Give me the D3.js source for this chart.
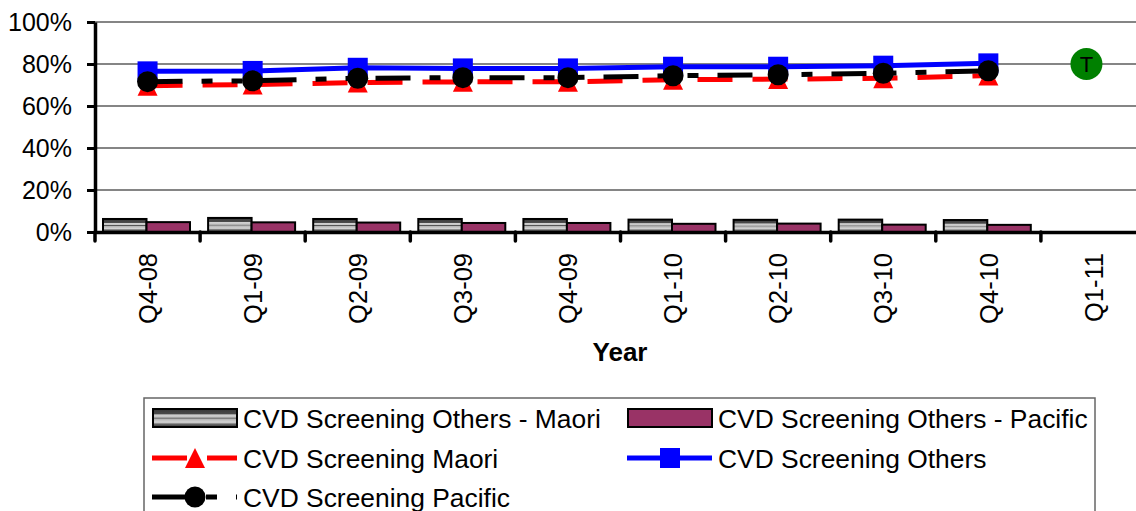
<!DOCTYPE html>
<html>
<head>
<meta charset="utf-8">
<script src="https://cdn.jsdelivr.net/npm/d3@7"></script>
<style>
  body { margin: 0; background: #fff; }
  svg { display: block; font-family: "Liberation Sans", Arial, sans-serif; }
</style>
</head>
<body>
<svg id="chart" width="1136" height="511"></svg>
<script>
// quarters on the x axis
var categories = ["Q4-08", "Q1-09", "Q2-09", "Q3-09", "Q4-09", "Q1-10", "Q2-10", "Q3-10", "Q4-10", "Q1-11"];
var yTicks = [0, 0.2, 0.4, 0.6, 0.8, 1];

// bar series
var othersMaori   = [0.062, 0.067, 0.062, 0.062, 0.062, 0.059, 0.058, 0.059, 0.057];
var othersPacific = [0.047, 0.046, 0.045, 0.043, 0.043, 0.039, 0.040, 0.035, 0.034];

// line series
var maori   = [0.697, 0.702, 0.712, 0.715, 0.715, 0.725, 0.728, 0.732, 0.745];
var others  = [0.765, 0.767, 0.782, 0.779, 0.779, 0.787, 0.787, 0.792, 0.803];
var pacific = [0.716, 0.720, 0.732, 0.735, 0.735, 0.744, 0.749, 0.756, 0.768];

// target point
var targetCat = ["Q1-11"];
var targetVal = [0.80];
var targetLabel = ["T"];

var seriesNames = ["CVD Screening Others - Maori", "CVD Screening Others - Pacific",
  "CVD Screening Maori", "CVD Screening Others", "CVD Screening Pacific"];

var svg = d3.select("#chart");

//----------------------SCALES-------------------------------------------
var x = d3.scaleBand().domain(categories).range([95, 1146]);
var y = d3.scaleLinear().domain([0, 1]).range([232, 22]);
var xSub = d3.scaleBand().domain(["m", "p"]).range([8, 95]);

// gray striped fill for the Maori bars
var defs = svg.append("defs");
var grad = defs.append("linearGradient").attr("id", "grayBar")
  .attr("x1", 0).attr("y1", 0).attr("x2", 0).attr("y2", 1);
[[0, "#3a3a3a"], [0.28, "#4a4a4a"], [0.32, "#d0d0d0"], [0.46, "#c4c4c4"], [0.5, "#555"],
 [0.56, "#b4b4b4"], [0.74, "#d4d4d4"], [0.84, "#6a6a6a"], [1, "#333"]]
  .forEach(function(s) { grad.append("stop").attr("offset", s[0]).attr("stop-color", s[1]); });

//----------------------GRID---------------------------------------------
svg.append("g").selectAll("line")
  .data(yTicks.filter(function(d) { return d > 0; }))
  .enter().append("line")
    .attr("x1", 95).attr("x2", 1146)
    .attr("y1", function(d) { return y(d); })
    .attr("y2", function(d) { return y(d); })
    .attr("stroke", "#858585")
    .attr("stroke-width", 2);

//----------------------BARS---------------------------------------------
var barData = othersMaori.map(function(v, i) {
  return { cat: categories[i], m: v, p: othersPacific[i] };
});
var groups = svg.append("g").selectAll("g")
  .data(barData).enter().append("g")
    .attr("transform", function(d) { return "translate(" + x(d.cat) + ",0)"; });
groups.append("rect")
  .attr("x", xSub("m")).attr("width", xSub.bandwidth())
  .attr("y", function(d) { return y(d.m); })
  .attr("height", function(d) { return y(0) - y(d.m); })
  .attr("fill", "url(#grayBar)").attr("stroke", "#000").attr("stroke-width", 2);
groups.append("rect")
  .attr("x", xSub("p")).attr("width", xSub.bandwidth())
  .attr("y", function(d) { return y(d.p); })
  .attr("height", function(d) { return y(0) - y(d.p); })
  .attr("fill", "#993366").attr("stroke", "#000").attr("stroke-width", 2);

//----------------------AXES---------------------------------------------
var yAxis = svg.append("g").attr("transform", "translate(95,0)")
  .call(d3.axisLeft(y).tickValues(yTicks).tickFormat(d3.format(".0%"))
    .tickSize(8).tickSizeOuter(0).tickPadding(15));
yAxis.select(".domain").attr("stroke", "#000").attr("stroke-width", 3.5);
yAxis.selectAll(".tick line").attr("stroke", "#000").attr("stroke-width", 3);
yAxis.selectAll("text").attr("font-size", "25px").attr("fill", "#000")
  .attr("font-family", "Liberation Sans, Arial, sans-serif");

var xAxis = svg.append("g").attr("transform", "translate(0,232)")
  .call(d3.axisBottom(x).tickSize(0).tickPadding(0));
xAxis.select(".domain").attr("stroke", "#000").attr("stroke-width", 3.5);
xAxis.selectAll("text")
  .attr("transform", "rotate(-90)")
  .attr("text-anchor", "end")
  .attr("x", -21).attr("y", 0).attr("dy", "0.36em")
  .attr("font-size", "25.5px").attr("fill", "#000")
  .attr("font-family", "Liberation Sans, Arial, sans-serif");

// boundary ticks between the quarters
svg.append("g").selectAll("line")
  .data(categories).enter().append("line")
    .attr("x1", function(d) { return x(d); })
    .attr("x2", function(d) { return x(d); })
    .attr("y1", 232).attr("y2", 241)
    .attr("stroke", "#000").attr("stroke-width", 3.5)
    .attr("stroke-linecap", "round");

svg.append("text")
  .attr("x", 620).attr("y", 361)
  .attr("text-anchor", "middle")
  .attr("font-size", "26px").attr("font-weight", "bold")
  .text("Year");

//----------------------LINES--------------------------------------------
function cx(i) { return x(categories[i]) + x.bandwidth() / 2; }
var line = d3.line()
  .x(function(d, i) { return cx(i); })
  .y(function(d) { return y(d); });

var triPath = "M0,-10L10,10L-10,10Z";

// Maori (red, dashed, triangles)
svg.append("path").datum(maori)
  .attr("d", line).attr("fill", "none")
  .attr("stroke", "#ff0000").attr("stroke-width", 5)
  .attr("stroke-dasharray", "35,20");
svg.append("g").selectAll("path")
  .data(maori).enter().append("path")
    .attr("d", triPath)
    .attr("transform", function(d, i) { return "translate(" + cx(i) + "," + y(d) + ")"; })
    .attr("fill", "#ff0000");

// Others (blue, solid, squares)
svg.append("path").datum(others)
  .attr("d", line).attr("fill", "none")
  .attr("stroke", "#0000ff").attr("stroke-width", 5);
svg.append("g").selectAll("rect")
  .data(others).enter().append("rect")
    .attr("x", function(d, i) { return cx(i) - 10; })
    .attr("y", function(d) { return y(d) - 10; })
    .attr("width", 20).attr("height", 20)
    .attr("fill", "#0000ff");

// Pacific (black, long dash dot dot, circles)
svg.append("path").datum(pacific)
  .attr("d", line).attr("fill", "none")
  .attr("stroke", "#000").attr("stroke-width", 5)
  .attr("stroke-dasharray", "35,19,11,19,11,19");
svg.append("g").selectAll("circle")
  .data(pacific).enter().append("circle")
    .attr("cx", function(d, i) { return cx(i); })
    .attr("cy", function(d) { return y(d); })
    .attr("r", 10.5)
    .attr("fill", "#000");

// target
var tg = svg.append("g").selectAll("g")
  .data(targetVal).enter().append("g")
    .attr("transform", function(d, i) {
      return "translate(" + (x(targetCat[i]) + x.bandwidth() / 2 - 7) + "," + y(d) + ")";
    });
tg.append("circle").attr("r", 16).attr("fill", "#008000");
tg.append("text").attr("text-anchor", "middle").attr("dy", "0.36em")
  .attr("font-size", "22px").attr("fill", "#000")
  .text(function(d, i) { return targetLabel[i]; });

//----------------------LEGEND-------------------------------------------
svg.append("rect")
  .attr("x", 144).attr("y", 398).attr("width", 951).attr("height", 200)
  .attr("fill", "none").attr("stroke", "#666").attr("stroke-width", 1.5);

var legCols = [152, 627];
var legRows = [418, 458, 497];
var legItems = seriesNames.map(function(n, i) {
  return { name: n, kind: i, lx: legCols[i % 2], ly: legRows[Math.floor(i / 2)] };
});
var leg = svg.append("g").selectAll("g")
  .data(legItems).enter().append("g")
    .attr("transform", function(d) { return "translate(" + d.lx + "," + d.ly + ")"; });

leg.append("text")
  .attr("x", 91).attr("dy", "0.36em")
  .attr("font-size", "26.4px").attr("fill", "#000")
  .text(function(d) { return d.name; });

leg.each(function(d) {
  var g = d3.select(this);
  if (d.kind === 0 || d.kind === 1) {
    g.append("rect").attr("x", 1).attr("y", -9).attr("width", 84).attr("height", 18)
      .attr("fill", d.kind === 0 ? "url(#grayBar)" : "#993366")
      .attr("stroke", "#000").attr("stroke-width", 2);
  } else {
    var col = d.kind === 2 ? "#ff0000" : d.kind === 3 ? "#0000ff" : "#000";
    var dash = d.kind === 2 ? "35,20" : d.kind === 4 ? "35,19,11,19,11,19" : null;
    g.append("line").attr("x1", 0).attr("x2", 85).attr("y1", 0).attr("y2", 0)
      .attr("stroke", col).attr("stroke-width", 5).attr("stroke-dasharray", dash);
    if (d.kind === 2) {
      g.append("path").attr("d", triPath).attr("transform", "translate(43,0)").attr("fill", col);
    } else if (d.kind === 3) {
      g.append("rect").attr("x", 33).attr("y", -10).attr("width", 20).attr("height", 20).attr("fill", col);
    } else {
      g.append("circle").attr("cx", 43).attr("r", 10.5).attr("fill", col);
    }
  }
});
</script>
</body>
</html>
